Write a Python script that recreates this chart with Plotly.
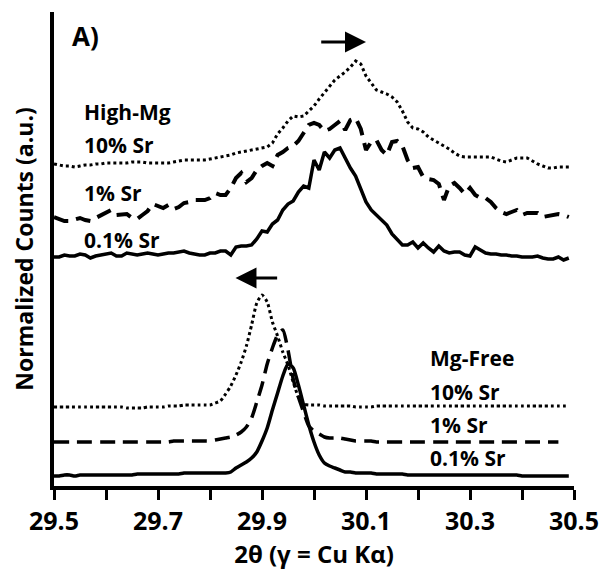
import numpy as np
import plotly.graph_objects as go

# 2-theta grid (degrees), step 0.01
two_theta = [round(29.50 + 0.01 * i, 2) for i in range(100)]

# High-Mg series (normalized counts, offset for display, a.u.)
highmg_01 = [229, 229, 231, 230, 230, 232, 231, 228, 230, 231,
             232, 233, 230, 230, 233, 232, 231, 232, 233, 232,
             231, 232, 233, 233, 234, 235, 233, 232, 231, 231,
             233, 233, 235, 235, 231, 239, 240, 240, 241, 247,
             255, 254, 262, 266, 276, 282, 285, 294, 300, 298,
             326, 316, 334, 328, 336, 338, 328, 318, 310, 296,
             284, 276, 271, 266, 261, 252, 247, 241, 241, 244,
             238, 243, 238, 234, 240, 235, 233, 234, 234, 231,
             230, 239, 236, 233, 232, 232, 231, 231, 230, 230,
             229, 229, 229, 230, 228, 227, 227, 229, 226, 228]
highmg_1 = [269, 267, 265, 265, 267, 268, 266, 265, 268, 271,
            273, 276, 271, 271, 272, 268, 267, 271, 275, 282,
            280, 278, 281, 277, 279, 283, 284, 286, 286, 286,
            288, 293, 291, 291, 298, 308, 313, 304, 308, 316,
            320, 323, 320, 331, 334, 338, 340, 345, 353, 361,
            363, 361, 355, 357, 361, 365, 356, 366, 368, 357,
            336, 344, 346, 336, 331, 344, 345, 340, 326, 318,
            319, 309, 307, 306, 302, 286, 300, 303, 298, 292,
            298, 291, 288, 288, 284, 278, 274, 272, 274, 276,
            271, 273, 273, 273, 269, 270, 272, 272, 271, 269]
highmg_10 = [322, 321, 320, 320, 319, 320, 321, 321, 322, 322,
             323, 323, 323, 323, 323, 324, 324, 324, 323, 323,
             323, 323, 323, 324, 325, 326, 326, 326, 326, 326,
             327, 328, 329, 330, 331, 333, 334, 335, 336, 337,
             338, 339, 343, 352, 358, 365, 370, 369, 370, 375,
             380, 387, 393, 399, 406, 410, 414, 419, 425, 422,
             410, 403, 396, 394, 392, 389, 384, 375, 364, 358,
             357, 354, 349, 346, 343, 340, 337, 333, 330, 329,
             329, 329, 329, 329, 329, 327, 325, 324, 326, 328,
             328, 328, 325, 322, 320, 318, 318, 319, 319, 319]

# Mg-Free series
mgfree_01 = [10, 10, 11, 11, 10, 11, 11, 11, 11, 11,
             11, 11, 11, 11, 11, 11, 12, 12, 12, 12,
             12, 12, 12, 12, 12, 13, 13, 13, 13, 13,
             13, 13, 13, 13, 14, 18, 21, 24, 28, 34,
             45, 58, 76, 93, 110, 122, 118, 101, 81, 61,
             44, 31, 23, 20, 18, 16, 14, 14, 13, 13,
             13, 13, 12, 12, 12, 12, 12, 12, 11, 11,
             11, 11, 11, 11, 11, 11, 11, 11, 11, 11,
             11, 11, 11, 11, 11, 11, 11, 11, 11, 11,
             10, 10, 10, 10, 10, 10, 10, 10, 10, 10]
mgfree_1 = [44, 44, 44, 44, 44, 44, 44, 44, 44, 44,
            44, 44, 44, 44, 44, 44, 44, 44, 44, 44,
            44, 44, 44, 45, 45, 45, 45, 45, 45, 45,
            45, 46, 47, 48, 49, 51, 54, 59, 68, 84,
            101, 122, 138, 151, 156, 136, 107, 89, 74, 60,
            55, 52, 49, 48, 48, 48, 47, 46, 45, 45,
            45, 45, 44, 44, 44, 44, 44, 44, 44, 44,
            44, 44, 44, 44, 44, 44, 44, 44, 44, 44,
            44, 44, 44, 44, 44, 44, 44, 44, 44, 44,
            44, 44, 44, 44, 44, 44, 44, 44]
mgfree_10 = [79, 79, 79, 79, 79, 79, 79, 79, 79, 79,
             79, 79, 79, 79, 78, 78, 78, 78, 79, 79,
             79, 79, 80, 80, 80, 81, 81, 81, 81, 81,
             81, 83, 85, 92, 100, 111, 124, 140, 161, 183,
             191, 184, 164, 150, 134, 121, 104, 89, 82, 81,
             81, 81, 80, 80, 80, 80, 80, 80, 79, 79,
             79, 79, 80, 80, 80, 80, 80, 80, 80, 80,
             80, 80, 80, 80, 80, 80, 80, 80, 80, 80,
             80, 80, 80, 80, 80, 80, 80, 80, 80, 80,
             80, 80, 80, 80, 80, 80, 80, 80, 80, 80]

tick_vals = [29.5, 29.6, 29.7, 29.8, 29.9, 30.0, 30.1, 30.2, 30.3, 30.4, 30.5]
tick_text = ["29.5", "", "29.7", "", "29.9", "", "30.1", "", "30.3", "", "30.5"]

FONT = "Open Sans"
W = 700
DASH = "15px,8px"

fig = go.Figure()

def add(y, dash, width, spline=False):
    fig.add_trace(go.Scatter(
        x=two_theta[:len(y)], y=y, mode="lines",
        line=dict(color="black", width=width, dash=dash,
                  shape="spline" if spline else "linear", smoothing=0.6),
        showlegend=False, hoverinfo="skip"))

add(highmg_10, "dot", 3)
add(highmg_1, DASH, 4)
add(highmg_01, "solid", 3.5)
add(mgfree_10, "dot", 3, True)
add(mgfree_1, DASH, 3.5, True)
add(mgfree_01, "solid", 3.5, True)

annotations = []
def label(x, y, text, size=21):
    annotations.append(dict(x=x, y=y, xref="x", yref="y", text=text, showarrow=False,
                            xanchor="left", yanchor="middle",
                            font=dict(family=FONT, size=size, color="black", weight=W)))

label(29.530, 450, "A)", 26)
label(29.554, 374, "High-Mg")
label(29.554, 341, "10% Sr")
label(29.554, 293, "1% Sr")
label(29.554, 246, "0.1% Sr")
label(30.220, 128, "Mg-Free")
label(30.220, 94, "10% Sr")
label(30.220, 61, "1% Sr")
label(30.220, 28, "0.1% Sr")

# shift arrows
for (hx, tx, yy) in [(30.100, 30.011, 444), (29.849, 29.932, 208)]:
    annotations.append(dict(x=hx, y=yy, ax=tx, ay=yy, xref="x", yref="y", axref="x", ayref="y",
                            showarrow=True, arrowhead=2, arrowsize=1.4, arrowwidth=3,
                            arrowcolor="black", text=""))

fig.update_layout(
    width=611, height=574,
    margin=dict(l=54, r=27, t=12, b=88),
    paper_bgcolor="white", plot_bgcolor="white",
    annotations=annotations,
    xaxis=dict(range=[29.5, 30.5], tickvals=tick_vals, ticktext=tick_text,
               showgrid=False, zeroline=False, showline=True, linecolor="black", linewidth=4,
               ticks="outside", ticklen=10, tickwidth=3, tickcolor="black",
               tickfont=dict(family=FONT, size=25, color="black", weight=W),
               title=dict(text="2θ (γ = Cu Kα)", standoff=3,
                          font=dict(family=FONT, size=24, color="black", weight=W))),
    yaxis=dict(range=[0, 474], showticklabels=False, ticks="",
               showgrid=False, zeroline=False, showline=True, linecolor="black", linewidth=4,
               title=dict(text="Normalized Counts (a.u.)", standoff=11,
                          font=dict(family=FONT, size=23, color="black", weight=W))),
)

fig.write_html("out.html")
